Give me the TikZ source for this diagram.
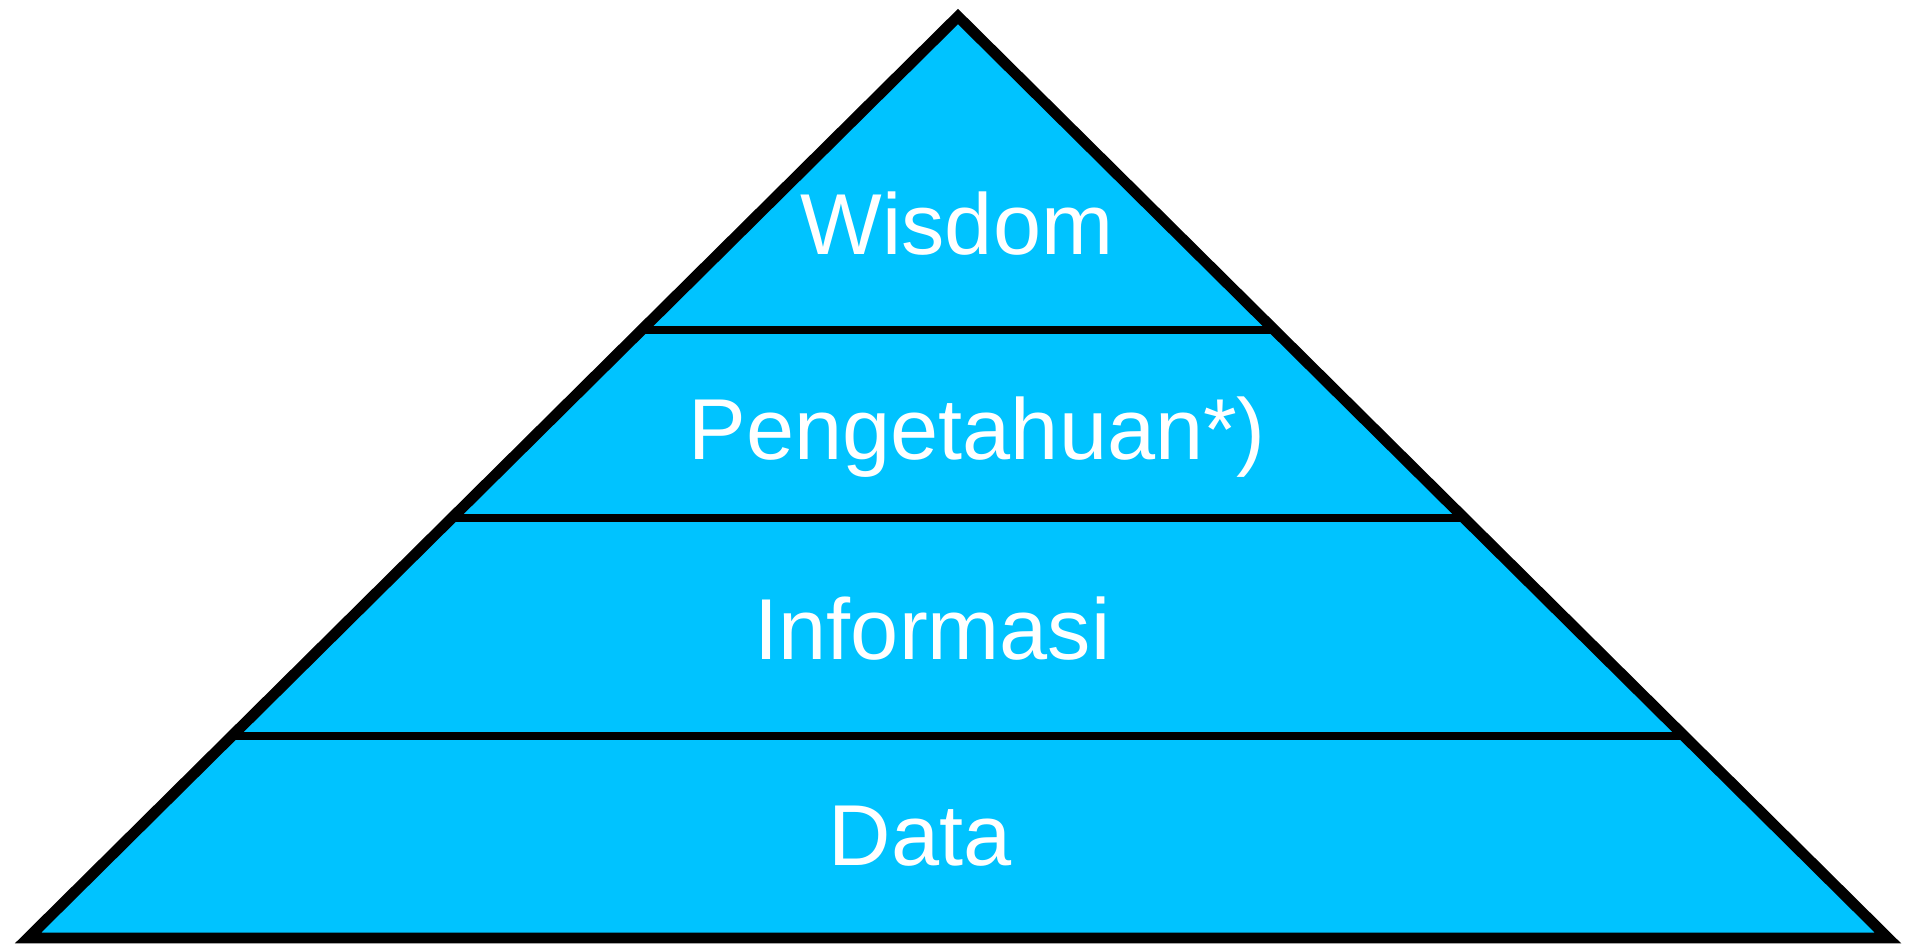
\documentclass[tikz,border=0pt]{standalone}
\usepackage{fontspec}
\setmainfont{Liberation Sans}
\usetikzlibrary{calc,positioning}
\definecolor{pyrblue}{RGB}{0,195,255}

\begin{document}
\begin{tikzpicture}[x=0.01cm,y=-0.01cm,
    level/.style={text=white,inner sep=0pt,font=\fontsize{24.6}{30}\selectfont},
    divider/.style={line width=2.3pt}]
    \useasboundingbox (0,0) rectangle (1908,944);
    \coordinate (apex) at (958,16.5);
    \coordinate (baseL) at (28,938);
    \coordinate (baseR) at (1888,938);
    \fill[pyrblue] (apex) -- (baseL) -- (baseR) -- cycle;
    % level borders
    \coordinate (l1) at ($(baseL)!0.6598!(apex)$);
    \coordinate (r1) at ($(baseR)!0.6598!(apex)$);
    \coordinate (l2) at ($(baseL)!0.4558!(apex)$);
    \coordinate (r2) at ($(baseR)!0.4558!(apex)$);
    \coordinate (l3) at ($(baseL)!0.2192!(apex)$);
    \coordinate (r3) at ($(baseR)!0.2192!(apex)$);
    \draw[divider] (l1) -- (r1);
    \draw[divider] (l2) -- (r2);
    \draw[divider] (l3) -- (r3);
    \draw[line width=3.1pt] (apex) -- (baseL) -- (baseR) -- cycle;
    % labels
    \node (wisdom) [level,anchor=base] at (957,254) {Wisdom};
    \node (pengetahuan) [level,anchor=base west] at (688,459) {Pengetahuan*)};
    \node (informasi) [level,anchor=base west] at (754,659) {Informasi};
    \node (data) [level,anchor=base west] at (828,865) {Data};
\end{tikzpicture}
\end{document}
